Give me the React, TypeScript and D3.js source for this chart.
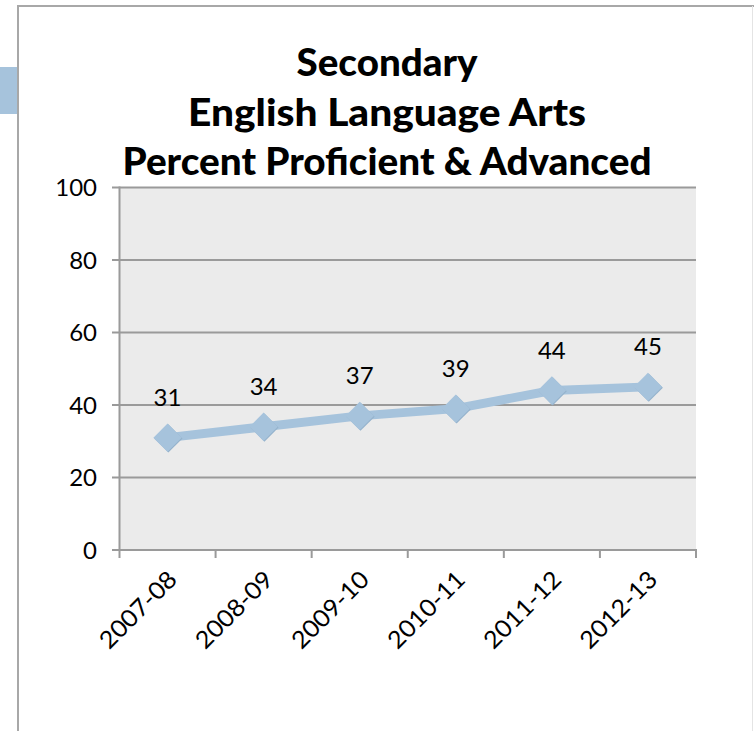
import React from "react";
import * as d3 from "d3";

// School years and percent proficient & advanced
const years: string[] = ["2007-08", "2008-09", "2009-10", "2010-11", "2011-12", "2012-13"];
const percents: number[] = [31, 34, 37, 39, 44, 45];
const yTicks: number[] = [0, 20, 40, 60, 80, 100];
const titleLines: string[] = ["Secondary", "English Language Arts", "Percent Proficient & Advanced"];
const titleWidths: number[] = [181, 398, 529];

const W = 754;
const H = 731;
const plot = { left: 119.5, right: 696, top: 187.5, bottom: 550 };

const BLUE = "#a6c3dc";
const GRID = "#9a9a9a";
const NUM_FONT = "Lato, 'Open Sans', sans-serif";

export default function App() {
  const x = d3
    .scaleBand<string>()
    .domain(years)
    .range([plot.left, plot.right])
    .paddingInner(0)
    .paddingOuter(0);
  const y = d3.scaleLinear().domain([0, 100]).range([plot.bottom, plot.top]);

  const cx = (d: string) => (x(d) ?? 0) + x.bandwidth() / 2;

  const line = d3
    .line<number>()
    .x((_, i) => cx(years[i]))
    .y((v) => y(v));

  const diamond = d3.symbol().type(d3.symbolSquare).size(400)();

  const boundaries = d3.range(years.length + 1).map((i) => plot.left + i * x.bandwidth());

  return (
    <svg
      width={W}
      height={H}
      viewBox={`0 0 ${W} ${H}`}
      style={{ position: "absolute", left: 0, top: 0, display: "block", background: "#fff" }}
    >
      {/* slide frame */}
      <rect x={0} y={67} width={17} height={47} fill={BLUE} />
      <line x1={18} y1={6} x2={W} y2={6} stroke="#a8a8a8" strokeWidth={2} />
      <line x1={18} y1={5} x2={18} y2={H} stroke="#a8a8a8" strokeWidth={2} />
      <line x1={752.5} y1={6} x2={752.5} y2={H} stroke="#e4e4e4" strokeWidth={1} />

      {/* title */}
      {titleLines.map((t, i) => (
        <text
          key={t}
          x={387}
          y={76 + i * 49.5}
          textAnchor="middle"
          textLength={titleWidths[i]}
          lengthAdjust="spacingAndGlyphs"
          fontFamily="Lato, 'Open Sans', sans-serif"
          fontWeight={900}
          fontSize={37}
          fill="#000"
        >
          {t}
        </text>
      ))}

      {/* plot area */}
      <rect
        x={plot.left}
        y={plot.top}
        width={plot.right - plot.left}
        height={plot.bottom - plot.top}
        fill="#ebebeb"
      />

      {/* gridlines and y ticks */}
      {yTicks.map((t) => (
        <g key={t}>
          {t > 0 && (
            <line x1={112} x2={plot.right} y1={y(t)} y2={y(t)} stroke={GRID} strokeWidth={2} />
          )}
          {t === 0 && <line x1={112} x2={plot.left} y1={y(t)} y2={y(t)} stroke={GRID} strokeWidth={2} />}
          <text
            x={97}
            y={y(t)}
            dy="0.36em"
            textAnchor="end"
            fontFamily={NUM_FONT}
            fontSize={24}
            fill="#000"
          >
            {t}
          </text>
        </g>
      ))}

      {/* axes */}
      <line x1={plot.left} x2={plot.left} y1={plot.top - 1} y2={plot.bottom} stroke={GRID} strokeWidth={2} />
      <line x1={plot.left - 1} x2={plot.right + 1} y1={plot.bottom} y2={plot.bottom} stroke={GRID} strokeWidth={2} />
      {boundaries.map((bx, i) => (
        <line key={i} x1={bx} x2={bx} y1={plot.bottom} y2={plot.bottom + 8} stroke={GRID} strokeWidth={2} />
      ))}

      {/* x labels */}
      {years.map((yr) => (
        <text
          key={yr}
          transform={`translate(${cx(yr) + 11},${plot.bottom + 31}) rotate(-45)`}
          textAnchor="end"
          textLength={98}
          lengthAdjust="spacingAndGlyphs"
          fontFamily={NUM_FONT}
          fontSize={24}
          fill="#000"
        >
          {yr}
        </text>
      ))}

      {/* series */}
      <path d={line(percents) ?? ""} fill="none" stroke={BLUE} strokeWidth={9} strokeLinejoin="round" />
      {percents.map((v, i) => (
        <g key={years[i]}>
          <path
            d={diamond ?? ""}
            transform={`translate(${cx(years[i]) + 0.8},${y(v) + 0.8}) rotate(45)`}
            fill="#94b2cc"
          />
          <path
            d={diamond ?? ""}
            transform={`translate(${cx(years[i])},${y(v)}) rotate(45)`}
            fill={BLUE}
          />
          <text
            x={cx(years[i])}
            y={y(v) - 32}
            textAnchor="middle"
            fontFamily={NUM_FONT}
            fontSize={24}
            fill="#000"
          >
            {v}
          </text>
        </g>
      ))}
    </svg>
  );
}
